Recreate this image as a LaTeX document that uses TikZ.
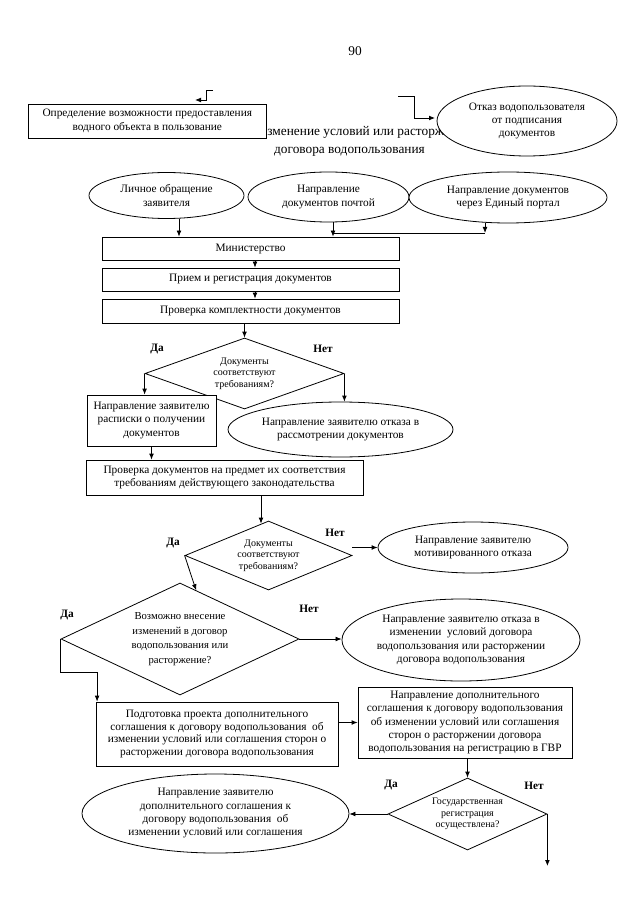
\documentclass[tikz,border=0pt]{standalone}
\usepackage{fontspec}
\setmainfont{Liberation Serif}
\usetikzlibrary{shapes.geometric,arrows.meta,calc}
\begin{document}
\begin{tikzpicture}[x=0.75pt,y=-0.75pt,line width=0.6pt,
  arr/.style={-{Latex[length=4.5pt,width=3.6pt]}},
  sz/.style 2 args={minimum width=#1*0.75pt,minimum height=#2*0.75pt},
  txt/.style={font=\fontsize{8.5}{10}\selectfont},
  boxn/.style={draw,rectangle,inner sep=0pt,align=center,fill=white,txt},
  elln/.style={draw,ellipse,inner sep=0pt,align=center,fill=white,txt},
  dian/.style={draw,diamond,inner sep=0pt,align=center,fill=white,font=\fontsize{7.5}{8.6}\selectfont},
  yn/.style={font=\bfseries\fontsize{8.5}{10}\selectfont,inner sep=0pt},
]
\useasboundingbox[fill=white] (0,0) rectangle (640,905);

\node[font=\fontsize{10}{12}\selectfont,inner sep=0pt] (pg) at (355,51) {90};

% title (partly covered)
\node[font=\fontsize{10}{12}\selectfont,inner sep=0pt,anchor=base west] (t1) at (267,136) {\llap{И}зменение условий или расторжение};
\node[font=\fontsize{10}{12}\selectfont,inner sep=0pt,anchor=base] (t2) at (349.5,154) {договора водопользования};

\node[boxn,sz={237.4}{34}] (A) at (147.3,121) {Определение возможности предоставления\\водного объекта в пользование};
\node[elln,sz={180}{70}] (R) at (527,121) {Отказ водопользователя\\от подписания\\документов};

\coordinate (la) at (213,90);
\draw[arr] (la) -- ++(-7,0) -- ++(0,10) -- ++(-11,0);
\coordinate (ra) at (398,96);
\draw[arr] (ra) -- ++(16,0) -- ++(0,22) -- ++(21,0);

% sources
\node[elln,sz={155}{46}] (E1) at (166.5,195.5) {Личное обращение\\заявителя};
\node[elln,sz={161}{50}] (E2) at (328.5,197) {Направление\\документов почтой};
\node[elln,sz={198}{51}] (E3) at (508,197.5) {Направление документов\\через Единый портал};

\node[boxn,sz={297}{23}] (M) at (250.5,248.5) {Министерство};
\node[boxn,sz={297}{23}] (Pr) at (250.5,279.5) {Прием и регистрация документов};
\node[boxn,sz={297}{24}] (Pk) at (250.5,311) {Проверка комплектности документов};

\coordinate (x1) at (179,0);
\coordinate (x2) at (333,0);
\coordinate (x3) at (485,0);
\coordinate (jy) at (0,233);
\coordinate (xm) at (255,0);
\draw[arr] (x1 |- E1.south) -- (x1 |- M.north);
\draw[arr] (x2 |- E2.south) -- (x2 |- M.north);
\draw[arr] (x3 |- E3.south) -- (x3 |- jy);
\draw (x3 |- jy) -- (x2 |- jy);
\draw[arr] (xm |- M.south) -- (xm |- Pr.north);
\draw[arr] (xm |- Pr.south) -- (xm |- Pk.north);

% first check
\node[dian,sz={199}{71},shape aspect=2.8] (D1) at (244.5,373.5) {Документы\\соответствуют\\требованиям?};
\draw[arr] (Pk.south -| D1.north) -- (D1.north);
\node[yn] (y1) at (157,349) {Да};
\node[yn] (n1) at (323,349) {Нет};
\node[boxn,sz={129}{51}] (B1) at (151.5,420.5) {Направление заявителю\\расписки о получении\\документов};
\node[elln,sz={225}{55}] (B2) at (340.5,429.5) {Направление заявителю отказа в\\рассмотрении документов};
\draw[arr] (D1.west) -- (D1.west |- B1.north);
\draw[arr] (D1.east) -- (D1.east |- B2.north);

\node[boxn,sz={277}{35}] (C) at (224.5,477.5) {Проверка документов на предмет их соответствия\\требованиям действующего законодательства};
\draw[arr] (B1.south) -- (B1.south |- C.north);

% second check
\node[dian,sz={167}{69},shape aspect=2.4] (D2) at (268.5,555.5) {Документы\\соответствуют\\требованиям?};
\coordinate (x4) at (261,0);
\draw[arr] (x4 |- C.south) -- ($(x4 |- D2.north)+(0,3)$);
\node[yn] (n2) at (335,533) {Нет};
\node[yn] (y2) at (173,543) {Да};
\node[elln,sz={190}{51}] (Em) at (473,547.5) {Направление заявителю\\мотивированного отказа};
\draw[arr] (D2.east |- Em.west) -- (Em.west);

% third check
\node[dian,sz={238}{112},shape aspect=2.1,font=\fontsize{8}{11}\selectfont] (D3) at (180,639) {Возможно внесение\\изменений в договор\\водопользования или\\расторжение?};
\draw[arr] (D2.west) -- ($(D3.north)!0.135!(D3.east)$);
\node[yn] (y3) at (67,615) {Да};
\node[yn] (n3) at (309,609) {Нет};
\node[elln,sz={209}{82}] (Er) at (461,640) {Направление заявителю отказа в\\изменении\ \ условий договора\\водопользования или расторжении\\договора водопользования};
\draw[arr] (D3.east) -- (D3.east -| Er.west);

\node[boxn,sz={242}{64},font=\fontsize{8.5}{9.6}\selectfont] (P) at (217,734) {Подготовка проекта дополнительного\\соглашения к договору водопользования\ \ об\\изменении условий или соглашения сторон о\\расторжении договора водопользования};
\draw[arr] (D3.west) -- ++(0,33) -| ($(P.north west)+(1.5,0)$);

\node[boxn,sz={214}{71}] (G) at (465,722.5) {Направление дополнительного\\соглашения к договору водопользования\\об изменении условий или соглашения\\сторон о расторжении договора\\водопользования на регистрацию в ГВР};
\draw[arr] (P.east |- G.west) -- (G.west);

% registration
\node[dian,sz={159}{72},shape aspect=2.2] (D4) at (467.5,814) {Государственная\\регистрация\\осуществлена?};
\draw[arr] (G.south -| D4.north) -- (D4.north);
\node[yn] (y4) at (391,785) {Да};
\node[yn] (n4) at (534,786) {Нет};
\node[elln,sz={267}{79}] (Ef) at (215.5,813.5) {Направление заявителю\\дополнительного соглашения к\\договору водопользования\ \ об\\изменении условий или соглашения};
\draw[arr] (D4.west) -- (D4.west -| Ef.east);
\coordinate (endp) at (547.5,866);
\draw[arr] (D4.east) -- (D4.east |- endp);
\end{tikzpicture}
\end{document}
